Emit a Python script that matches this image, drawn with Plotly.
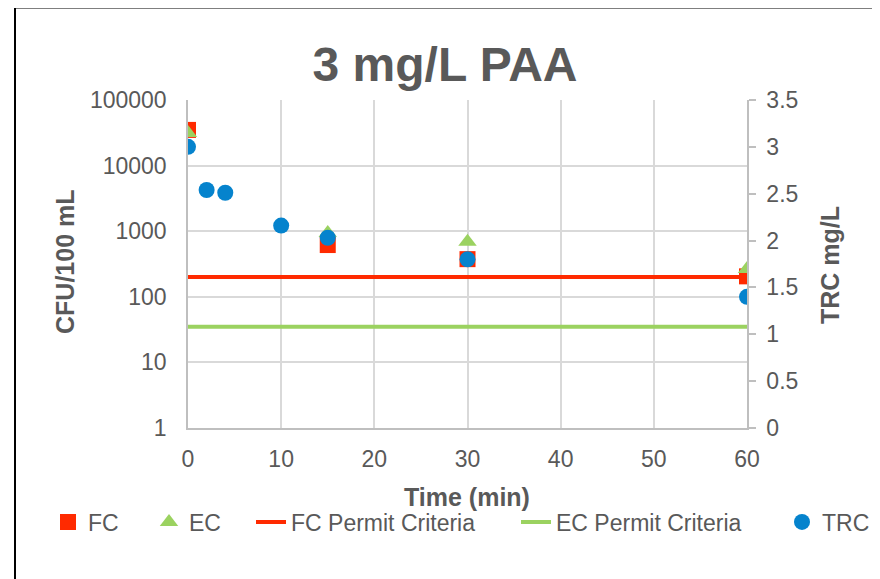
import plotly.graph_objects as go

# ---- data ----
time_fc = [0, 15, 30, 60]
fc_values = [35000, 615, 375, 205]
time_ec = [0, 15, 30, 60]
ec_values = [31500, 940, 690, 265]
permit_x = [0, 60]
fc_permit = [200, 200]
ec_permit = [35, 35]
time_trc = [0, 2, 4, 10, 15, 30, 60]
trc_values = [3.0, 2.54, 2.51, 2.16, 2.03, 1.80, 1.40]

left_ticks = [1, 10, 100, 1000, 10000, 100000]
left_tick_text = ["1", "10", "100", "1000", "10000", "100000"]

RED = "#FF2A00"
GREEN = "#9BD260"
BLUE = "#0583CD"
GREY_TXT = "#595959"
FONT = "Liberation Sans, Arial, sans-serif"

W, H = 880, 579
OFF = 8  # page body margin offset
L, R, T, B = 188 - OFF, 747 - OFF, 100 - OFF, 428 - OFF
pw, ph = R - L, B - T


def px2x(px):
    return (px - OFF - L) / pw


def py2y(py):
    return (B - (py - OFF)) / ph


fig = go.Figure()

fig.add_trace(go.Scatter(x=permit_x, y=fc_permit, mode="lines", name="FC Permit Criteria",
                         line=dict(color=RED, width=4), legend="legend3", yaxis="y"))
fig.add_trace(go.Scatter(x=permit_x, y=ec_permit, mode="lines", name="EC Permit Criteria",
                         line=dict(color=GREEN, width=4), legend="legend4", yaxis="y"))
fig.add_trace(go.Scatter(x=time_fc, y=fc_values, mode="markers", name="FC",
                         marker=dict(symbol="square", size=16, color=RED), legend="legend", yaxis="y"))
fig.add_trace(go.Scatter(x=time_ec, y=ec_values, mode="markers", name="EC",
                         marker=dict(symbol="triangle-up", size=16, color=GREEN), legend="legend2", yaxis="y"))
fig.add_trace(go.Scatter(x=time_trc, y=trc_values, mode="markers", name="TRC",
                         marker=dict(symbol="circle", size=16, color=BLUE), legend="legend5", yaxis="y2"))

legend_font = dict(family=FONT, size=23, color=GREY_TXT)
text_starts = [88, 189, 291, 556, 822]
legend_defs = {}
for i, ts in enumerate(text_starts):
    key = "legend" if i == 0 else f"legend{i + 1}"
    legend_defs[key] = dict(x=(ts - OFF - 40) / W, xref="container", xanchor="left",
                            y=1 - (522 - OFF) / H, yref="container", yanchor="middle",
                            orientation="h", font=legend_font, bgcolor="rgba(0,0,0,0)",
                            borderwidth=0, itemwidth=30)

title_font = dict(family=FONT, size=25, color=GREY_TXT)
axis_titles = [
    dict(text="<b>Time (min)</b>", x=px2x(467), y=py2y(497), textangle=0),
    dict(text="<b>CFU/100 mL</b>", x=px2x(65), y=py2y(262), textangle=-90),
    dict(text="<b>TRC mg/L</b>", x=px2x(830), y=py2y(265), textangle=-90),
]
annotations = [dict(text=a["text"], x=a["x"], y=a["y"], xref="paper", yref="paper",
                    xanchor="center", yanchor="middle", textangle=a["textangle"],
                    showarrow=False, font=title_font) for a in axis_titles]

fig.update_layout(
    width=W, height=H,
    margin=dict(l=L, r=W - R, t=T, b=H - B, autoexpand=False),
    paper_bgcolor="white", plot_bgcolor="white",
    font=dict(family=FONT, color=GREY_TXT),
    title=dict(text="<b>3 mg/L PAA</b>", x=(445 - OFF) / W, xanchor="center", xref="container",
               y=1 - 56 / H, yanchor="middle", yref="container",
               font=dict(family=FONT, size=48, color=GREY_TXT)),
    xaxis=dict(range=[0, 60], dtick=10, tick0=0, showgrid=True, gridcolor="#D9D9D9", gridwidth=1.5,
               showline=True, linecolor="#BFBFBF", linewidth=1.5, zeroline=False, ticks="",
               automargin=False,
               tickfont=dict(family=FONT, size=23, color=GREY_TXT), ticklabelstandoff=10),
    yaxis=dict(type="log", range=[0, 5], tickvals=left_ticks, ticktext=left_tick_text,
               showgrid=True, gridcolor="#D9D9D9", gridwidth=1.5, automargin=False,
               showline=True, linecolor="#BFBFBF", linewidth=1.5, zeroline=False, ticks="",
               tickfont=dict(family=FONT, size=23, color=GREY_TXT), ticklabelstandoff=15),
    yaxis2=dict(range=[0, 3.5], dtick=0.5, tick0=0, overlaying="y", side="right", automargin=False,
                showgrid=False, showline=True, linecolor="#BFBFBF", linewidth=1.5, zeroline=False,
                ticks="outside", ticklen=7, tickcolor="#BFBFBF", tickwidth=1.5,
                tickfont=dict(family=FONT, size=23, color=GREY_TXT), ticklabelstandoff=6),
    annotations=annotations,
    shapes=[dict(type="rect", xref="paper", yref="paper",
                 x0=px2x(15), x1=px2x(873), y0=py2y(600), y1=py2y(7.5),
                 line=dict(color="black", width=2), fillcolor="rgba(0,0,0,0)", layer="above")],
    showlegend=True,
    **legend_defs,
)

fig.write_html("out.html")
